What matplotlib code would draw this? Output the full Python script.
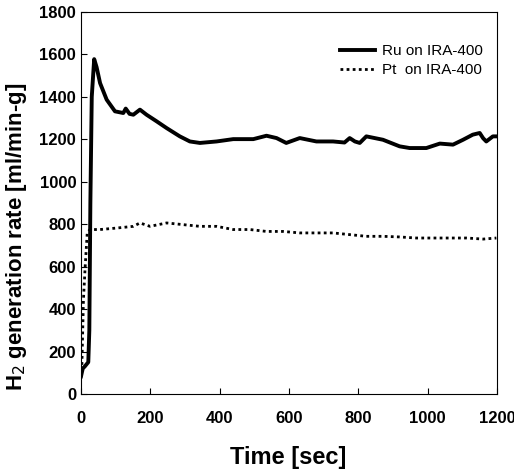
import matplotlib
matplotlib.use("Agg")
import matplotlib.pyplot as plt

# datos
t_ru = [0, 5, 11, 21, 24, 27, 31, 38, 45, 55, 74, 98, 122, 129, 140, 151, 170, 189, 218, 247, 285,
        314, 343, 391, 439, 497, 535, 564, 592, 631, 679, 727, 760, 775, 790, 804, 823, 871, 919, 948,
        996, 1035, 1073, 1102, 1130, 1150, 1160, 1169, 1188, 1200]
h2_ru = [83, 120, 130, 150, 300, 900, 1400, 1578, 1540, 1465, 1387, 1332, 1324, 1345, 1320, 1316,
         1340, 1316, 1285, 1253, 1214, 1190, 1183, 1190, 1201, 1201, 1217, 1206, 1183, 1206,
         1190, 1190, 1185, 1206, 1190, 1183, 1214, 1198, 1167, 1159, 1159, 1180, 1175, 1198, 1222, 1230,
         1205, 1190, 1214, 1214]

t_pt = [0, 2, 7, 12, 18, 26, 55, 103, 151, 170, 199, 247, 295, 343, 391, 439, 487, 535, 583,
        631, 727, 775, 823, 871, 919, 967, 1015, 1112, 1160, 1198]
h2_pt = [80, 99, 444, 600, 760, 775, 775, 782, 790, 806, 790, 806, 798, 790, 790, 775, 775,
         766, 766, 759, 759, 751, 743, 743, 740, 735, 735, 735, 730, 735]

x_ticks = [0, 200, 400, 600, 800, 1000, 1200]
y_ticks = [0, 200, 400, 600, 800, 1000, 1200, 1400, 1600, 1800]

plt.rcParams['font.family'] = ['Liberation Sans Narrow', 'Liberation Sans', 'DejaVu Sans']

fig = plt.figure(figsize=(5.14, 4.71), dpi=100)
ax = fig.add_axes([0.1576, 0.1635, 0.8094, 0.811])

ax.plot(t_ru, h2_ru, color='black', lw=2.8, label='Ru on IRA-400')
ax.plot(t_pt, h2_pt, color='black', lw=2.0, ls=(0, (1, 1.2)), label='Pt  on IRA-400')

ax.set_xlim(0, 1200)
ax.set_ylim(0, 1800)
ax.set_xticks(x_ticks)
ax.set_yticks(y_ticks)
ax.tick_params(direction='in', length=4, labelsize=12)
ax.tick_params(axis='x', pad=12)
for lab in ax.get_xticklabels() + ax.get_yticklabels():
    lab.set_fontweight('bold')

ax.set_xlabel('Time [sec]', fontsize=17, fontweight='bold')
ax.xaxis.set_label_coords(0.498, -0.135)
ax.set_ylabel(r'H$_2$ generation rate [ml/min-g]', fontsize=16, fontweight='bold')
ax.yaxis.set_label_coords(-0.125, 0.41)

ax.legend(loc='upper right', frameon=False, fontsize=11, handlelength=2.3,
          handletextpad=0.4, borderpad=0, borderaxespad=0, labelspacing=0.3,
          bbox_to_anchor=(0.965, 0.915))

fig.savefig("out.png", dpi=100)
